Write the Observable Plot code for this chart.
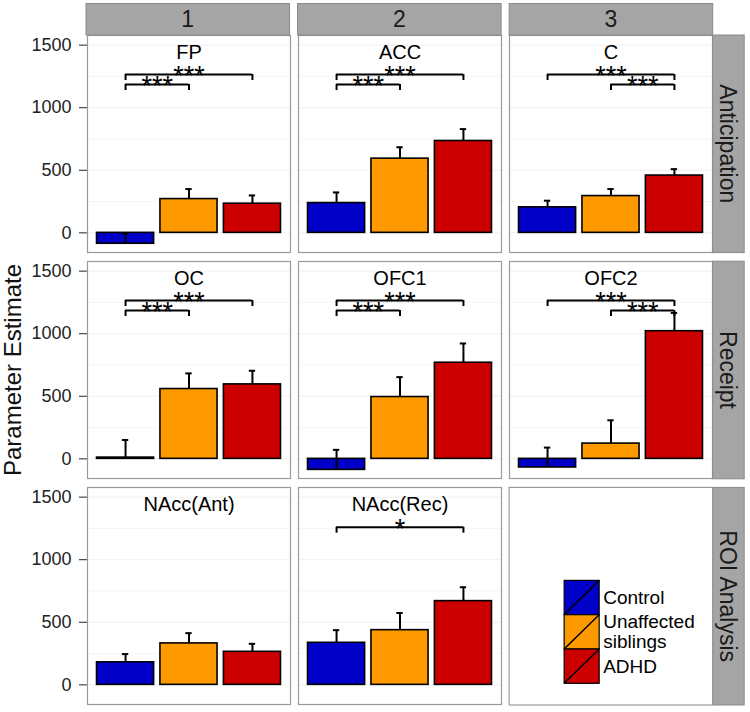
<!DOCTYPE html>
<html><head><meta charset="utf-8">
<script src="https://cdn.jsdelivr.net/npm/d3@7"></script>
<script src="https://cdn.jsdelivr.net/npm/@observablehq/plot@0.6"></script>
<style>
body{margin:0;background:#fff;}
#chart svg{display:block;}
</style></head><body><div id="chart"></div>
<script>
// ---- data ----
const columns = ["1", "2", "3"];
const rows = ["Anticipation", "Receipt", "ROI Analysis"];
const regions = ["FP", "ACC", "C", "OC", "OFC1", "OFC2", "NAcc(Ant)", "NAcc(Rec)"];
const regionRow = ["Anticipation", "Anticipation", "Anticipation", "Receipt", "Receipt", "Receipt", "ROI Analysis", "ROI Analysis"];
const regionCol = ["1", "2", "3", "1", "2", "3", "1", "2"];
const groups = ["Control", "Unaffected siblings", "ADHD"];
const groupLabels = [["Control"], ["Unaffected", "siblings"], ["ADHD"]];
const groupColors = ["#0000c8", "#ff9900", "#cc0000"];
const controlMean = [-87, 238, 204, 10, -88, -69, 180, 336];
const controlUpper = [-5, 323, 257, 151, 72, 90, 246, 437];
const siblingsMean = [270, 593, 294, 558, 494, 122, 331, 437];
const siblingsUpper = [350, 684, 350, 683, 653, 308, 413, 574];
const adhdMean = [233, 734, 458, 595, 768, 1020, 264, 669];
const adhdUpper = [299, 829, 509, 704, 922, 1166, 328, 780];
const yTicks = [0, 500, 1000, 1500];
const yMinorTicks = [250, 750, 1250];
// significance brackets (group index 1..3)
const sigRegion = ["FP", "FP", "ACC", "ACC", "C", "C", "OC", "OC", "OFC1", "OFC1", "OFC2", "OFC2", "NAcc(Rec)"];
const sigFrom = [1, 1, 1, 1, 1, 2, 1, 1, 1, 1, 1, 2, 1];
const sigTo = [3, 2, 3, 2, 3, 3, 3, 2, 3, 2, 3, 3, 3];
const sigHeight = [1265, 1185, 1265, 1185, 1265, 1185, 1265, 1185, 1265, 1185, 1265, 1185, 1260];
const sigLabel = ["***", "***", "***", "***", "***", "***", "***", "***", "***", "***", "***", "***", "*"];

// ---- tables ----
const means = [controlMean, siblingsMean, adhdMean];
const uppers = [controlUpper, siblingsUpper, adhdUpper];
const table = [];
regions.forEach((r, i) => {
  groups.forEach((g, gi) => {
    table.push({region: r, row: regionRow[i], col: regionCol[i], group: g, gi: gi + 1,
      value: means[gi][i], upper: uppers[gi][i]});
  });
});
const titles = regions.map((r, i) => ({region: r, row: regionRow[i], col: regionCol[i]}));
const brackets = sigRegion.map((r, i) => {
  const k = regions.indexOf(r);
  return {region: r, row: regionRow[k], col: regionCol[k], from: sigFrom[i], to: sigTo[i], level: sigHeight[i], label: sigLabel[i]};
});
const bracketEnds = brackets.flatMap(b => [{...b, x: b.from}, {...b, x: b.to}]);

const FONT = '"Liberation Sans", Arial, Helvetica, sans-serif';
const tickDrop = 48; // bracket end length in data units

const plot = Plot.plot({
  width: 750, height: 712,
  marginLeft: 86, marginRight: 37.3, marginTop: 35, marginBottom: 7,
  style: {fontFamily: FONT, background: "#fff", color: "#222"},
  fx: {domain: columns, paddingInner: 0.038, paddingOuter: 0, axis: null},
  fy: {domain: rows, paddingInner: 0.038, paddingOuter: 0, axis: null},
  x: {type: "linear", domain: [0.4, 3.6], axis: null},
  y: {domain: [-157, 1577], axis: null},
  color: {domain: groups, range: groupColors},
  marks: [
    Plot.ruleY(yMinorTicks, {stroke: "#f6f6f6", strokeWidth: 1}),
    Plot.ruleY(yTicks, {stroke: "#f0f0f0", strokeWidth: 1}),
    Plot.axisY(yTicks, {anchor: "left", tickSize: 8, tickPadding: 8, fontSize: 18, color: "#222", label: null, tickFormat: d => String(d)}),
    Plot.rect(table, {fx: "col", fy: "row", x1: d => d.gi - 0.45, x2: d => d.gi + 0.45, y1: 0, y2: "value",
      fill: "group", stroke: "black", strokeWidth: 1.6}),
    Plot.ruleX(table, {fx: "col", fy: "row", x: "gi", y1: "value", y2: "upper", stroke: "black", strokeWidth: 2}),
    Plot.ruleY(table, {fx: "col", fy: "row", y: "upper", x1: d => d.gi - 0.05, x2: d => d.gi + 0.05, stroke: "black", strokeWidth: 2}),
    Plot.ruleY(brackets, {fx: "col", fy: "row", y: "level", x1: "from", x2: "to", stroke: "black", strokeWidth: 2}),
    Plot.ruleX(bracketEnds, {fx: "col", fy: "row", x: "x", y1: "level", y2: d => d.level - tickDrop, stroke: "black", strokeWidth: 2}),
    Plot.text(brackets, {fx: "col", fy: "row", x: d => (d.from + d.to) / 2, y: "level", text: "label", fontSize: 27, fill: "black", dy: 2}),
    Plot.text(titles, {fx: "col", fy: "row", text: "region", frameAnchor: "top", lineAnchor: "middle", dy: 17, fontSize: 20, fill: "black"}),
    Plot.frame({stroke: "#9a9a9a", strokeWidth: 1.2})
  ]
});

// ---- strips, y label and legend drawn on the same svg using Plot's scales ----
const fxS = plot.scale("fx"), fyS = plot.scale("fy");
const bandX = d3.scaleBand().domain(fxS.domain).range(fxS.range).paddingInner(fxS.paddingInner ?? 0.038).paddingOuter(fxS.paddingOuter ?? 0);
const bandY = d3.scaleBand().domain(fyS.domain).range(fyS.range).paddingInner(fyS.paddingInner ?? 0.038).paddingOuter(fyS.paddingOuter ?? 0);
const svg = d3.select(plot);
const top0 = fyS.range[0], right0 = fxS.range[1];
const stripSize = 31.5;
const strips = svg.append("g").attr("font-family", FONT);
columns.forEach(c => {
  const x0 = bandX(c), w = bandX.bandwidth();
  strips.append("rect").attr("x", x0).attr("y", top0 - stripSize).attr("width", w).attr("height", stripSize)
    .attr("fill", "#a5a5a5").attr("stroke", "#8a8a8a").attr("stroke-width", 1);
  strips.append("text").attr("x", x0 + w / 2).attr("y", top0 - stripSize / 2).attr("text-anchor", "middle")
    .attr("dominant-baseline", "central").attr("font-size", 23).attr("fill", "#1a1a1a").text(c);
});
rows.forEach(r => {
  const y0 = bandY(r), h = bandY.bandwidth();
  strips.append("rect").attr("x", right0).attr("y", y0).attr("width", stripSize).attr("height", h)
    .attr("fill", "#a5a5a5").attr("stroke", "#8a8a8a").attr("stroke-width", 1);
  strips.append("text").attr("transform", `translate(${right0 + stripSize / 2},${y0 + h / 2}) rotate(90)`)
    .attr("text-anchor", "middle").attr("dominant-baseline", "central").attr("font-size", 23).attr("fill", "#1a1a1a").text(r);
});
// empty panel frame
const ex = bandX(columns[2]), ey = bandY(rows[2]);
strips.append("rect").attr("x", ex).attr("y", ey).attr("width", bandX.bandwidth()).attr("height", bandY.bandwidth())
  .attr("fill", "none").attr("stroke", "#9a9a9a").attr("stroke-width", 1.2);
// y label
strips.append("text").attr("transform", `translate(21,${(fyS.range[0] + fyS.range[1]) / 2}) rotate(-90)`)
  .attr("text-anchor", "middle").attr("font-size", 24).attr("fill", "#111").text("Parameter Estimate");
// legend inside empty panel
const lg = strips.append("g").attr("transform", `translate(${ex + 55},${ey + 93})`);
const key = 34.3;
groups.forEach((g, i) => {
  const y = i * key;
  lg.append("rect").attr("x", 0).attr("y", y).attr("width", 35).attr("height", key)
    .attr("fill", groupColors[i]).attr("stroke", "black").attr("stroke-width", 1.2);
  lg.append("line").attr("x1", 0).attr("y1", y + key).attr("x2", 35).attr("y2", y)
    .attr("stroke", "black").attr("stroke-width", 1.5);
  const lines = groupLabels[i];
  lines.forEach((t, j) => {
    lg.append("text").attr("x", 39).attr("y", y + key / 2 + (j - (lines.length - 1) / 2) * 20)
      .attr("text-anchor", "start").attr("dominant-baseline", "central").attr("font-size", 19).attr("fill", "black").text(t);
  });
});

document.getElementById("chart").appendChild(plot);
</script>
</body></html>
